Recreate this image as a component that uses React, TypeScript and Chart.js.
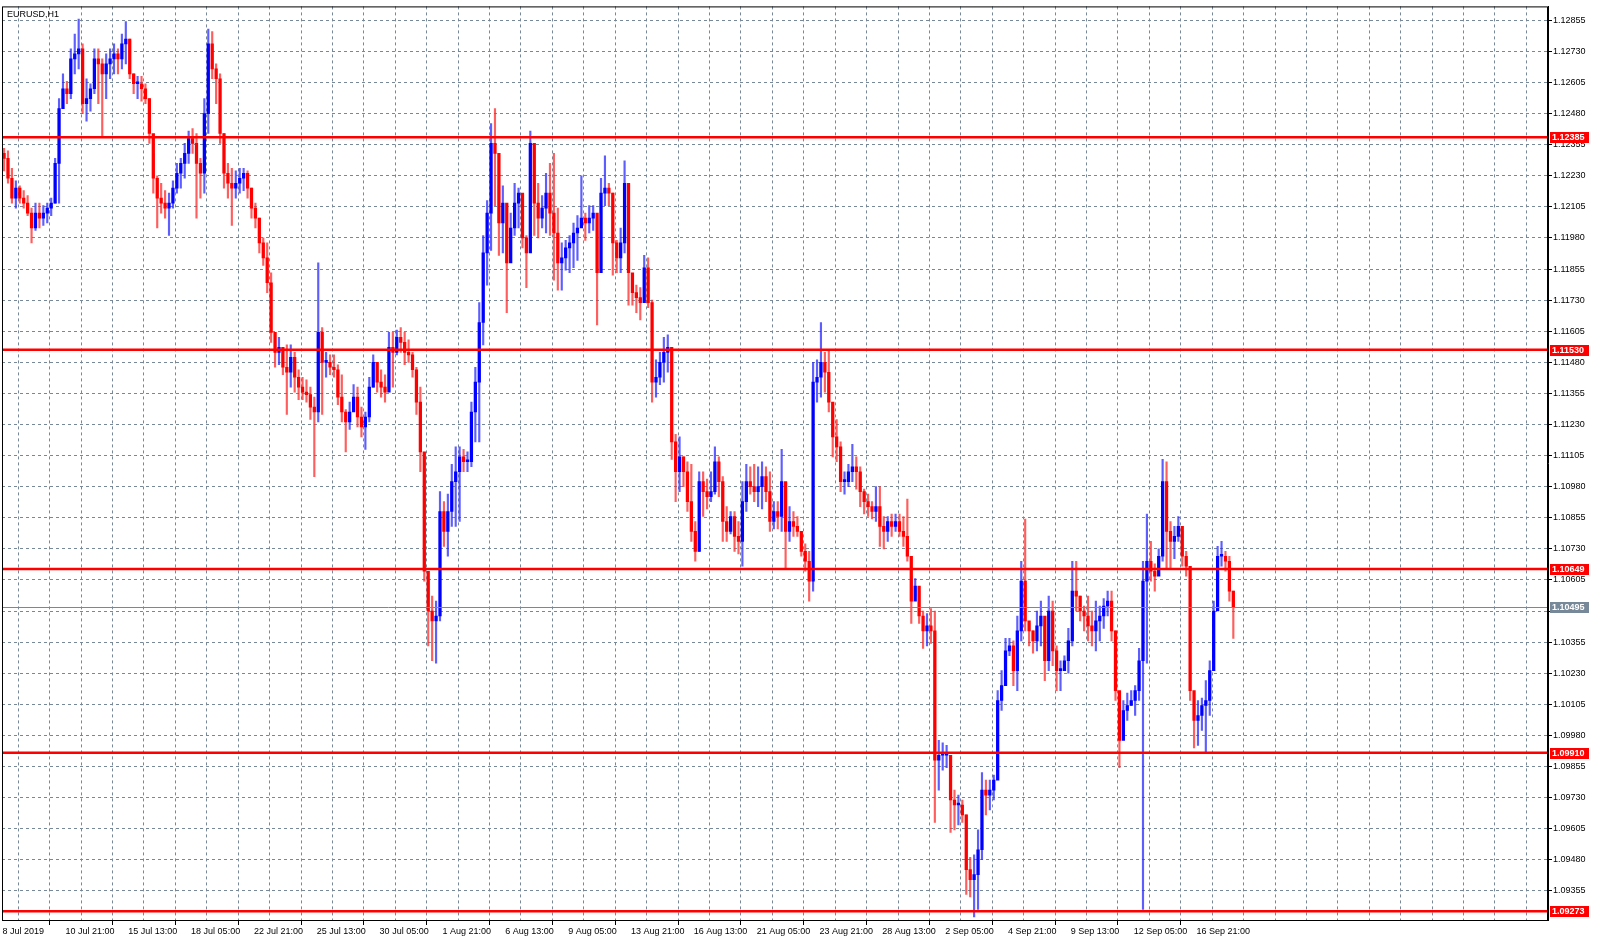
import { useEffect, useRef } from 'react';
import { Chart, registerables } from 'chart.js';

Chart.register(...registerables);

const symbolTitle = 'EURUSD,H1';

// 4-hour bars, starting 8 Jul 2019 05:00
const firstOpen = 1.1232;

const highs = [
  1.1234, 1.1233, 1.1226, 1.1221, 1.1219, 1.1217, 1.1215, 1.121, 1.1212, 1.1212,
  1.1211, 1.1212, 1.1214, 1.123, 1.1254, 1.1264, 1.1261, 1.1274, 1.128, 1.1286,
  1.1276, 1.1262, 1.126, 1.1274, 1.1274, 1.127, 1.1272, 1.1274, 1.1276, 1.1274,
  1.128, 1.1285, 1.1278, 1.1264, 1.1263, 1.1263, 1.126, 1.1254, 1.1232, 1.1223,
  1.122, 1.1217, 1.1216, 1.1221, 1.1228, 1.123, 1.1236, 1.1241, 1.1242, 1.124,
  1.123, 1.1254, 1.1282, 1.1281, 1.1268, 1.1264, 1.124, 1.1228, 1.1226, 1.1225,
  1.1226, 1.1226, 1.1225, 1.1218, 1.1212, 1.1206, 1.1198, 1.1196, 1.1184, 1.116,
  1.1158, 1.1153, 1.1155, 1.1155, 1.1152, 1.1145, 1.1142, 1.1141, 1.1138, 1.1134,
  1.1188, 1.1162, 1.1152, 1.1151, 1.1151, 1.1147, 1.1143, 1.1129, 1.1132, 1.1139,
  1.1138, 1.113, 1.1128, 1.1142, 1.1151, 1.1148, 1.1145, 1.1143, 1.116, 1.116,
  1.1161, 1.1162, 1.116, 1.1157, 1.1152, 1.1146, 1.1138, 1.1104, 1.106, 1.1054,
  1.1052, 1.1096, 1.1092, 1.1095, 1.1107, 1.1114, 1.1114, 1.1113, 1.1112, 1.1132,
  1.1146, 1.1172, 1.1199, 1.1213, 1.1244, 1.125, 1.1219, 1.1219, 1.1204, 1.1208,
  1.122, 1.1218, 1.1212, 1.1199, 1.1241, 1.1236, 1.122, 1.1215, 1.1224, 1.1228,
  1.1232, 1.121, 1.1196, 1.1197, 1.1199, 1.1204, 1.1207, 1.1223, 1.1208, 1.1211,
  1.1211, 1.1201, 1.1222, 1.1231, 1.122, 1.1216, 1.1197, 1.1202, 1.1229, 1.1212,
  1.1182, 1.1179, 1.1178, 1.1191, 1.119, 1.1173, 1.1149, 1.1152, 1.1158, 1.1159,
  1.1154, 1.1119, 1.1118, 1.111, 1.1108, 1.1107, 1.1084, 1.1104, 1.1104, 1.1101,
  1.1104, 1.1114, 1.111, 1.1102, 1.109, 1.1088, 1.1088, 1.1084, 1.11, 1.1107,
  1.1106, 1.1107, 1.1106, 1.1108, 1.1106, 1.1104, 1.1092, 1.1092, 1.1113, 1.1099,
  1.109, 1.1088, 1.1086, 1.108, 1.1075, 1.1072, 1.1148, 1.1149, 1.1164, 1.1152,
  1.1153, 1.113, 1.1125, 1.1116, 1.1104, 1.1107, 1.1115, 1.111, 1.1106, 1.1097,
  1.1095, 1.1092, 1.1098, 1.1098, 1.1086, 1.1086, 1.1087, 1.1087, 1.1087, 1.1086,
  1.1093, 1.1062, 1.1061, 1.1056, 1.1048, 1.1047, 1.1049, 1.1048, 1.0996, 1.0995,
  1.0994, 1.099, 1.0976, 1.0974, 1.0972, 1.0966, 1.0949, 1.095, 1.096, 1.0983,
  1.098, 1.098, 1.0982, 1.1016, 1.1024, 1.1037, 1.1037, 1.1036, 1.1046, 1.1068,
  1.1085, 1.1043, 1.104, 1.1048, 1.1052, 1.1044, 1.1054, 1.1052, 1.1034, 1.1028,
  1.103, 1.1041, 1.1068, 1.1068, 1.1054, 1.105, 1.1054, 1.1048, 1.1052, 1.105,
  1.1053, 1.1056, 1.1056, 1.104, 1.1012, 1.1012, 1.1015, 1.1016, 1.1018, 1.1033,
  1.1068, 1.1087, 1.1076, 1.1067, 1.1073, 1.1109, 1.1108, 1.1084, 1.1082, 1.1086,
  1.108, 1.1072, 1.1066, 1.1012, 1.1012, 1.1013, 1.102, 1.1028, 1.1052, 1.1074,
  1.1076, 1.1072, 1.107, 1.1056,
];

const lows = [
  1.1225, 1.122, 1.1212, 1.121, 1.1212, 1.121, 1.1207, 1.1196, 1.1201, 1.1202,
  1.1203, 1.1204, 1.1207, 1.1212, 1.1212, 1.125, 1.1252, 1.1254, 1.1264, 1.1266,
  1.1248, 1.1245, 1.1249, 1.1256, 1.1252, 1.1239, 1.1254, 1.1262, 1.1264, 1.1264,
  1.1266, 1.1268, 1.1262, 1.1256, 1.1254, 1.1253, 1.1252, 1.1236, 1.1216, 1.1202,
  1.1208, 1.1206, 1.1199, 1.121, 1.1216, 1.1218, 1.1222, 1.1228, 1.1232, 1.1206,
  1.1214, 1.1216, 1.124, 1.1262, 1.1252, 1.1236, 1.1218, 1.1214, 1.1203, 1.1214,
  1.1216, 1.1217, 1.1214, 1.1206, 1.1202, 1.1192, 1.1187, 1.1176, 1.1156, 1.1146,
  1.1147, 1.1143, 1.1127, 1.1138, 1.1136, 1.1133, 1.1133, 1.1132, 1.1125, 1.1102,
  1.1124, 1.1127, 1.1142, 1.1143, 1.1142, 1.1131, 1.1124, 1.1112, 1.1121, 1.1129,
  1.1122, 1.1118, 1.1113, 1.1124, 1.1138, 1.1136, 1.1134, 1.1132, 1.1138, 1.1138,
  1.1151, 1.1152, 1.1147, 1.1148, 1.1142, 1.1127, 1.1104, 1.106, 1.1034, 1.1028,
  1.1027, 1.1044, 1.1074, 1.107, 1.1082, 1.1082, 1.1084, 1.1104, 1.1104, 1.1106,
  1.1116, 1.1116, 1.1155, 1.1179, 1.1193, 1.1211, 1.1191, 1.1192, 1.1168, 1.1192,
  1.1199, 1.1202, 1.1194, 1.1178, 1.1196, 1.1199, 1.1198, 1.1202, 1.12, 1.1199,
  1.1181, 1.1177, 1.1177, 1.1185, 1.1184, 1.1186, 1.1189, 1.1203, 1.1197, 1.12,
  1.1201, 1.1163, 1.1187, 1.1211, 1.1211, 1.1183, 1.1184, 1.1184, 1.1192, 1.1171,
  1.1171, 1.1168, 1.1165, 1.1173, 1.117, 1.1132, 1.1134, 1.1139, 1.114, 1.1144,
  1.1109, 1.1092, 1.1096, 1.1098, 1.1088, 1.1076, 1.1068, 1.1072, 1.1086, 1.1089,
  1.1092, 1.1095, 1.1094, 1.1076, 1.1076, 1.1079, 1.1072, 1.1071, 1.1066, 1.1088,
  1.1095, 1.1092, 1.109, 1.1089, 1.1092, 1.108, 1.1081, 1.1081, 1.108, 1.1065,
  1.1076, 1.1078, 1.1078, 1.107, 1.1064, 1.1052, 1.1056, 1.1132, 1.1134, 1.1136,
  1.1128, 1.111, 1.1108, 1.1096, 1.1095, 1.1098, 1.11, 1.1097, 1.109, 1.1087,
  1.1086, 1.1085, 1.1084, 1.1074, 1.1073, 1.1076, 1.1078, 1.108, 1.1078, 1.1074,
  1.1068, 1.1043, 1.1054, 1.1043, 1.1033, 1.1034, 1.1035, 1.0963, 1.0976, 1.0984,
  1.0985, 1.0959, 1.096, 1.0962, 1.0963, 1.0934, 1.0933, 1.0925, 1.0928, 1.0948,
  1.0966, 1.0968, 1.0972, 1.0984, 1.1008, 1.1022, 1.103, 1.1018, 1.1016, 1.1036,
  1.104, 1.1034, 1.1031, 1.1032, 1.1034, 1.102, 1.1024, 1.1026, 1.1016, 1.1016,
  1.1024, 1.1023, 1.1034, 1.1048, 1.1044, 1.104, 1.1036, 1.1034, 1.1032, 1.1036,
  1.1041, 1.1046, 1.1036, 1.1012, 1.0985, 1.0998, 1.1004, 1.101, 1.1006, 1.1012,
  1.0928, 1.1027, 1.106, 1.1056, 1.1064, 1.1068, 1.1065, 1.1065, 1.1069, 1.1076,
  1.1066, 1.1062, 1.1012, 1.0993, 1.0994, 1.1, 1.0991, 1.1006, 1.1024, 1.105,
  1.1066, 1.1064, 1.1052, 1.1037,
];

const closes = [
  1.123, 1.1222, 1.1214, 1.1218, 1.1214, 1.1212, 1.1208, 1.1202, 1.1208, 1.1206,
  1.1208, 1.121, 1.1212, 1.1228, 1.125, 1.1258, 1.1256, 1.127, 1.1272, 1.1274,
  1.1252, 1.1254, 1.1258, 1.127, 1.1268, 1.1264, 1.1268, 1.127, 1.1272, 1.127,
  1.1276, 1.1278, 1.1264, 1.126, 1.126, 1.1258, 1.1254, 1.124, 1.1222, 1.1214,
  1.1212, 1.121, 1.1212, 1.1218, 1.1224, 1.1228, 1.1232, 1.1238, 1.1236, 1.1228,
  1.1224, 1.1248, 1.1276, 1.1266, 1.1262, 1.124, 1.1224, 1.122, 1.1218, 1.122,
  1.1222, 1.1224, 1.1218, 1.121, 1.1206, 1.1196, 1.119, 1.118, 1.116, 1.1152,
  1.1154, 1.1146, 1.1144, 1.115, 1.1142, 1.1138, 1.1136, 1.1135, 1.113, 1.1128,
  1.116, 1.1148, 1.1148, 1.1146, 1.1145, 1.1134, 1.1128, 1.1124, 1.1128, 1.1134,
  1.1126, 1.1122, 1.1126, 1.1138, 1.1148, 1.114, 1.1138, 1.1136, 1.1154, 1.1152,
  1.1158, 1.1156, 1.1152, 1.1151, 1.1145, 1.1132, 1.1112, 1.1064, 1.1048, 1.1044,
  1.1046, 1.1088, 1.108, 1.1088, 1.11, 1.1104, 1.111, 1.1108, 1.1108, 1.1128,
  1.114, 1.1164, 1.1192, 1.1208, 1.1236, 1.1232, 1.1204, 1.1212, 1.1188, 1.1202,
  1.1212, 1.1216, 1.1198, 1.1192, 1.1236, 1.1212, 1.1206, 1.121, 1.1216, 1.1208,
  1.12, 1.1188, 1.119, 1.1194, 1.1196, 1.12, 1.1202, 1.1206, 1.1204, 1.1206,
  1.1208, 1.1184, 1.1216, 1.1218, 1.1216, 1.1196, 1.119, 1.1196, 1.122, 1.1184,
  1.1176, 1.1174, 1.1172, 1.1186, 1.1172, 1.114, 1.1142, 1.1148, 1.1152, 1.1154,
  1.1116, 1.1104, 1.111, 1.1104, 1.1092, 1.108, 1.1072, 1.11, 1.1096, 1.1094,
  1.1096, 1.1108, 1.11, 1.1084, 1.108, 1.1086, 1.1078, 1.1076, 1.1092, 1.11,
  1.1098, 1.1096, 1.1098, 1.1102, 1.1096, 1.1084, 1.1088, 1.1086, 1.11, 1.108,
  1.1084, 1.1082, 1.108, 1.1072, 1.1068, 1.106, 1.114, 1.1142, 1.1148, 1.1144,
  1.1132, 1.1118, 1.1114, 1.11, 1.11, 1.1104, 1.1106, 1.1104, 1.1096, 1.1092,
  1.109, 1.1088, 1.109, 1.1082, 1.108, 1.1084, 1.1082, 1.1084, 1.108, 1.1078,
  1.107, 1.1052, 1.1058, 1.1046, 1.104, 1.1042, 1.104, 1.0988, 1.099, 1.099,
  1.099, 1.0972, 1.097, 1.097, 1.0966, 1.0944, 1.094, 1.0942, 1.0952, 1.0976,
  1.0974, 1.0976, 1.098, 1.1012, 1.1018, 1.1032, 1.1034, 1.1024, 1.104, 1.106,
  1.1044, 1.104, 1.1036, 1.1042, 1.1046, 1.1028, 1.1048, 1.1032, 1.1024, 1.1024,
  1.1028, 1.1036, 1.1056, 1.1054, 1.1048, 1.1046, 1.1042, 1.104, 1.1044, 1.1046,
  1.105, 1.1052, 1.104, 1.1016, 1.0996, 1.1008, 1.101, 1.1012, 1.1016, 1.1028,
  1.106, 1.1068, 1.1064, 1.1062, 1.107, 1.11, 1.108, 1.1076, 1.1078, 1.1082,
  1.107, 1.1066, 1.1016, 1.1004, 1.1006, 1.101, 1.1012, 1.1024, 1.1048, 1.107,
  1.107, 1.1068, 1.1056, 1.10495,
];

// horizontal levels drawn on the chart
const levels = [1.12385, 1.1153, 1.10649, 1.0991, 1.09273];

const priceTicks = [
  1.12855, 1.1273, 1.12605, 1.1248, 1.12355, 1.1223, 1.12105, 1.1198, 1.11855, 1.1173,
  1.11605, 1.1148, 1.11355, 1.1123, 1.11105, 1.1098, 1.10855, 1.1073, 1.10605, 1.1048,
  1.10355, 1.1023, 1.10105, 1.0998, 1.09855, 1.0973, 1.09605, 1.0948, 1.09355,
];

const timeLabels = [
  '8 Jul 2019', '10 Jul 21:00', '15 Jul 13:00', '18 Jul 05:00', '22 Jul 21:00',
  '25 Jul 13:00', '30 Jul 05:00', '1 Aug 21:00', '6 Aug 13:00', '9 Aug 05:00',
  '13 Aug 21:00', '16 Aug 13:00', '21 Aug 05:00', '23 Aug 21:00', '28 Aug 13:00',
  '2 Sep 05:00', '4 Sep 21:00', '9 Sep 13:00', '12 Sep 05:00', '16 Sep 21:00',
];

const HOURS_PER_BAR = 4;
const HOURS_PER_GRID = 32;
const X_MIN = -0.6;
const X_MAX = 1574;
const Y_MIN = 1.092376;
const Y_MAX = 1.12911;

const FONT = 'Liberation Sans';
const UP = '#0000ff';
const DOWN = '#ff0000';
const UP_WICK = 'rgba(40, 40, 255, 0.75)';
const DOWN_WICK = 'rgba(255, 40, 40, 0.75)';
const GRID = '#778899';

export default function App() {
  const canvasRef = useRef<HTMLCanvasElement>(null);
  const chartRef = useRef<Chart | null>(null);

  useEffect(() => {
    document.body.style.margin = '0';
    if (!canvasRef.current) return;
    const ctx = canvasRef.current.getContext('2d');
    if (!ctx) return;

    if (chartRef.current) chartRef.current.destroy();

    const opens = closes.map((_, i) => (i === 0 ? firstOpen : closes[i - 1]));
    const isUp = closes.map((c, i) => c >= opens[i]);
    const xOf = (i: number) => i * HOURS_PER_BAR + 1.5;
    const wicks = closes.map((_, i) => ({ x: xOf(i), y: [lows[i], highs[i]] }));
    const bodies = closes.map((c, i) => ({ x: xOf(i), y: [Math.min(opens[i], c), Math.max(opens[i], c)] }));
    const lastPrice = closes[closes.length - 1];

    const gridHours: number[] = [];
    for (let h = 0; h <= X_MAX; h += HOURS_PER_GRID) gridHours.push(h);

    const labelFor = (value: number) => {
      const n = Math.round(value / HOURS_PER_GRID);
      if (n % 2 !== 0) return '';
      return timeLabels[n / 2] ?? '';
    };

    const overlay = {
      id: 'mtOverlay',
      afterDatasetsDraw(chart: any) {
        const { ctx: c, chartArea: a, scales } = chart;
        c.save();
        c.beginPath();
        c.rect(a.left, a.top, a.right - a.left, a.bottom - a.top);
        c.clip();

        // current price line
        const yp = Math.round(scales.y.getPixelForValue(lastPrice)) + 0.5;
        c.strokeStyle = GRID;
        c.lineWidth = 1;
        c.beginPath();
        c.moveTo(a.left, yp);
        c.lineTo(a.right, yp);
        c.stroke();

        // support / resistance lines
        c.strokeStyle = '#ff0000';
        c.lineWidth = 2.5;
        levels.forEach((v) => {
          const y = scales.y.getPixelForValue(v);
          c.beginPath();
          c.moveTo(a.left, y);
          c.lineTo(a.right, y);
          c.stroke();
        });
        c.restore();
      },
      afterDraw(chart: any) {
        const { ctx: c, chartArea: a, scales } = chart;
        c.save();
        // frame
        c.strokeStyle = '#000';
        c.lineWidth = 1;
        c.strokeRect(a.left + 0.5, a.top + 0.5, a.right - a.left - 1, a.bottom - a.top);

        // symbol caption
        c.font = `9px "${FONT}"`;
        c.fillStyle = '#000';
        c.textBaseline = 'middle';
        c.textAlign = 'left';
        c.fillText(symbolTitle, a.left + 5, a.top + 8);

        // price tags on the axis
        const tag = (v: number, bg: string) => {
          const y = scales.y.getPixelForValue(v);
          c.fillStyle = bg;
          c.fillRect(a.right + 2, Math.round(y) - 5, 39, 11);
          c.fillStyle = '#fff';
          c.font = `bold 9px "${FONT}"`;
          c.fillText(v.toFixed(5), a.right + 4, Math.round(y) + 0.5);
        };
        tag(lastPrice, GRID);
        levels.forEach((v) => tag(v, '#ff0000'));
        c.restore();
      },
    };

    chartRef.current = new Chart(ctx, {
      type: 'bar',
      data: {
        datasets: [
          {
            data: wicks as any,
            backgroundColor: isUp.map((u) => (u ? UP_WICK : DOWN_WICK)),
            borderWidth: 0,
            barThickness: 1.5,
            grouped: false,
            order: 2,
          },
          {
            data: bodies as any,
            backgroundColor: isUp.map((u) => (u ? UP : DOWN)),
            borderWidth: 0,
            barThickness: 2.6,
            minBarLength: 2,
            grouped: false,
            order: 1,
          },
        ],
      },
      options: {
        responsive: true,
        maintainAspectRatio: false,
        animation: false,
        layout: { padding: { left: 2, top: 2, right: 0, bottom: 0 } },
        plugins: {
          legend: { display: false },
          tooltip: { enabled: false },
        },
        scales: {
          x: {
            type: 'linear',
            min: X_MIN,
            max: X_MAX,
            offset: false,
            afterBuildTicks: (s: any) => {
              s.ticks = gridHours.map((v) => ({ value: v }));
            },
            afterFit: (s: any) => {
              s.height = 22;
            },
            grid: {
              color: GRID,
              lineWidth: 1,
              drawTicks: true,
              tickLength: 5,
              tickColor: (c: any) => (c.tick && labelFor(c.tick.value) ? '#000' : 'rgba(0,0,0,0)'),
            },
            border: { color: '#000', width: 1, dash: [3, 3] },
            ticks: {
              align: 'start',
              autoSkip: false,
              maxRotation: 0,
              padding: 1,
              color: '#000',
              font: { family: FONT, size: 9 },
              callback: (v: any) => labelFor(Number(v)),
            },
          },
          y: {
            position: 'right',
            min: Y_MIN,
            max: Y_MAX,
            afterBuildTicks: (s: any) => {
              s.ticks = priceTicks.map((v) => ({ value: v }));
            },
            afterFit: (s: any) => {
              s.width = 52;
            },
            grid: {
              color: GRID,
              lineWidth: 1,
              drawTicks: true,
              tickLength: 4,
              tickColor: '#000',
            },
            border: { color: '#000', width: 1, dash: [3, 3] },
            ticks: {
              padding: 1,
              color: '#000',
              font: { family: FONT, size: 9 },
              callback: (v: any) => Number(v).toFixed(5),
            },
          },
        },
      },
      plugins: [overlay],
    } as any);

    return () => {
      if (chartRef.current) {
        chartRef.current.destroy();
        chartRef.current = null;
      }
    };
  }, []);

  return (
    <div style={{ position: 'fixed', left: 0, top: 0, width: 1600, height: 942, background: '#fff' }}>
      <canvas ref={canvasRef} />
    </div>
  );
}
